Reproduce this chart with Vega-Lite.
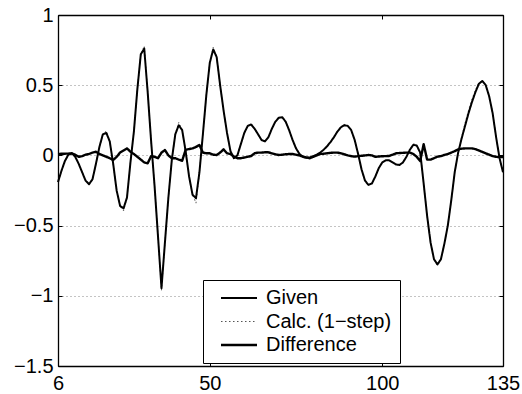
{
  "$schema": "https://vega.github.io/schema/vega-lite/v6.json",
  "width": 445,
  "height": 351,
  "autosize": {"type": "none"},
  "padding": {"left": 58, "top": 15, "right": 19, "bottom": 28},
  "background": "white",
  "config": {
    "font": "Liberation Sans",
    "view": {"stroke": null},
    "axis": {
      "labelFont": "Liberation Sans",
      "labelFontSize": 20,
      "labelColor": "black",
      "domainColor": "black",
      "domainWidth": 1.3,
      "tickColor": "black",
      "tickWidth": 1,
      "tickSize": -4,
      "labelFlush": false,
      "labelOverlap": false,
      "title": null
    },
    "legend": {
      "labelFont": "Liberation Sans",
      "labelFontSize": 20,
      "labelColor": "black"
    }
  },
  "data": {
    "values": [
      {"x": 6, "g": -0.19, "c": -0.19, "d": 0.01},
      {"x": 7, "g": -0.11, "c": -0.11, "d": 0.012},
      {"x": 8, "g": -0.04, "c": -0.04, "d": 0.012},
      {"x": 9, "g": 0.005, "c": 0.005, "d": 0.013},
      {"x": 10, "g": 0.015, "c": 0.015, "d": 0.015},
      {"x": 11, "g": -0.01, "c": -0.01, "d": 0.005},
      {"x": 12, "g": -0.06, "c": -0.06, "d": -0.01},
      {"x": 13, "g": -0.12, "c": -0.12, "d": -0.005},
      {"x": 14, "g": -0.18, "c": -0.18, "d": 0.005},
      {"x": 15, "g": -0.205, "c": -0.205, "d": 0.01},
      {"x": 16, "g": -0.17, "c": -0.17, "d": 0.02},
      {"x": 17, "g": -0.06, "c": -0.06, "d": 0.026},
      {"x": 18, "g": 0.06, "c": 0.06, "d": 0.01},
      {"x": 19, "g": 0.15, "c": 0.15, "d": 0.0},
      {"x": 20, "g": 0.16, "c": 0.175, "d": -0.01},
      {"x": 21, "g": 0.1, "c": 0.1, "d": -0.02},
      {"x": 22, "g": -0.06, "c": -0.06, "d": -0.033},
      {"x": 23, "g": -0.25, "c": -0.25, "d": -0.01},
      {"x": 24, "g": -0.36, "c": -0.36, "d": 0.02},
      {"x": 25, "g": -0.377, "c": -0.395, "d": 0.035},
      {"x": 26, "g": -0.3, "c": -0.3, "d": 0.05},
      {"x": 27, "g": -0.05, "c": -0.05, "d": 0.026},
      {"x": 28, "g": 0.17, "c": 0.17, "d": 0.01},
      {"x": 29, "g": 0.47, "c": 0.47, "d": -0.01},
      {"x": 30, "g": 0.72, "c": 0.72, "d": -0.03},
      {"x": 31, "g": 0.76, "c": 0.78, "d": -0.05},
      {"x": 32, "g": 0.45, "c": 0.45, "d": -0.056},
      {"x": 33, "g": 0.1, "c": 0.1, "d": -0.005},
      {"x": 34, "g": -0.22, "c": -0.22, "d": -0.01},
      {"x": 35, "g": -0.58, "c": -0.58, "d": -0.02},
      {"x": 36, "g": -0.945, "c": -0.96, "d": 0.02},
      {"x": 37, "g": -0.62, "c": -0.62, "d": 0.038},
      {"x": 38, "g": -0.3, "c": -0.3, "d": 0.0},
      {"x": 39, "g": -0.03, "c": -0.03, "d": -0.02},
      {"x": 40, "g": 0.15, "c": 0.15, "d": -0.02},
      {"x": 41, "g": 0.215, "c": 0.235, "d": -0.03},
      {"x": 42, "g": 0.18, "c": 0.18, "d": -0.038},
      {"x": 43, "g": 0.03, "c": 0.03, "d": 0.04},
      {"x": 44, "g": -0.15, "c": -0.15, "d": 0.045},
      {"x": 45, "g": -0.28, "c": -0.28, "d": 0.05},
      {"x": 46, "g": -0.305, "c": -0.34, "d": 0.06},
      {"x": 47, "g": -0.12, "c": -0.12, "d": 0.074},
      {"x": 48, "g": 0.15, "c": 0.15, "d": 0.02},
      {"x": 49, "g": 0.43, "c": 0.43, "d": 0.015},
      {"x": 50, "g": 0.66, "c": 0.66, "d": 0.015},
      {"x": 51, "g": 0.755, "c": 0.77, "d": 0.005},
      {"x": 52, "g": 0.7, "c": 0.7, "d": 0.003},
      {"x": 53, "g": 0.5, "c": 0.5, "d": 0.02},
      {"x": 54, "g": 0.32, "c": 0.32, "d": 0.043},
      {"x": 55, "g": 0.16, "c": 0.16, "d": 0.015},
      {"x": 56, "g": 0.03, "c": 0.03, "d": 0.01},
      {"x": 57, "g": -0.02, "c": -0.02, "d": -0.009},
      {"x": 58, "g": 0.0, "c": 0.0, "d": -0.02},
      {"x": 59, "g": 0.08, "c": 0.08, "d": -0.02},
      {"x": 60, "g": 0.16, "c": 0.16, "d": -0.015},
      {"x": 61, "g": 0.21, "c": 0.21, "d": -0.01},
      {"x": 62, "g": 0.22, "c": 0.22, "d": -0.004},
      {"x": 63, "g": 0.19, "c": 0.19, "d": 0.015},
      {"x": 64, "g": 0.15, "c": 0.15, "d": 0.02},
      {"x": 65, "g": 0.11, "c": 0.11, "d": 0.02},
      {"x": 66, "g": 0.1, "c": 0.1, "d": 0.022},
      {"x": 67, "g": 0.13, "c": 0.13, "d": 0.022},
      {"x": 68, "g": 0.19, "c": 0.19, "d": 0.015},
      {"x": 69, "g": 0.24, "c": 0.24, "d": 0.008},
      {"x": 70, "g": 0.268, "c": 0.268, "d": 0.003},
      {"x": 71, "g": 0.272, "c": 0.272, "d": 0.005},
      {"x": 72, "g": 0.24, "c": 0.24, "d": 0.008},
      {"x": 73, "g": 0.18, "c": 0.18, "d": 0.01},
      {"x": 74, "g": 0.11, "c": 0.11, "d": 0.01},
      {"x": 75, "g": 0.05, "c": 0.05, "d": 0.005},
      {"x": 76, "g": 0.01, "c": 0.01, "d": 0.0},
      {"x": 77, "g": -0.01, "c": -0.01, "d": -0.009},
      {"x": 78, "g": -0.016, "c": -0.016, "d": -0.015},
      {"x": 79, "g": -0.015, "c": -0.015, "d": -0.02},
      {"x": 80, "g": -0.005, "c": -0.005, "d": -0.01},
      {"x": 81, "g": 0.005, "c": 0.005, "d": 0.0},
      {"x": 82, "g": 0.02, "c": 0.02, "d": 0.01},
      {"x": 83, "g": 0.04, "c": 0.04, "d": 0.012},
      {"x": 84, "g": 0.065, "c": 0.065, "d": 0.015},
      {"x": 85, "g": 0.095, "c": 0.095, "d": 0.018},
      {"x": 86, "g": 0.13, "c": 0.13, "d": 0.02},
      {"x": 87, "g": 0.17, "c": 0.17, "d": 0.02},
      {"x": 88, "g": 0.2, "c": 0.2, "d": 0.015},
      {"x": 89, "g": 0.215, "c": 0.22, "d": 0.008},
      {"x": 90, "g": 0.21, "c": 0.21, "d": 0.0},
      {"x": 91, "g": 0.18, "c": 0.18, "d": -0.005},
      {"x": 92, "g": 0.11, "c": 0.11, "d": -0.009},
      {"x": 93, "g": 0.01, "c": 0.01, "d": -0.005},
      {"x": 94, "g": -0.1, "c": -0.1, "d": -0.003},
      {"x": 95, "g": -0.18, "c": -0.18, "d": 0.0},
      {"x": 96, "g": -0.21, "c": -0.21, "d": 0.003},
      {"x": 97, "g": -0.2, "c": -0.2, "d": 0.0},
      {"x": 98, "g": -0.15, "c": -0.15, "d": -0.01},
      {"x": 99, "g": -0.09, "c": -0.09, "d": -0.008},
      {"x": 100, "g": -0.05, "c": -0.05, "d": -0.006},
      {"x": 101, "g": -0.035, "c": -0.035, "d": -0.005},
      {"x": 102, "g": -0.035, "c": -0.035, "d": -0.004},
      {"x": 103, "g": -0.05, "c": -0.05, "d": 0.005},
      {"x": 104, "g": -0.065, "c": -0.065, "d": 0.015},
      {"x": 105, "g": -0.068, "c": -0.068, "d": 0.017},
      {"x": 106, "g": -0.05, "c": -0.05, "d": 0.018},
      {"x": 107, "g": -0.01, "c": -0.01, "d": 0.02},
      {"x": 108, "g": 0.04, "c": 0.04, "d": 0.02},
      {"x": 109, "g": 0.075, "c": 0.085, "d": 0.01},
      {"x": 110, "g": 0.07, "c": 0.07, "d": -0.01},
      {"x": 111, "g": 0.02, "c": 0.02, "d": -0.04},
      {"x": 112, "g": -0.2, "c": -0.2, "d": 0.08},
      {"x": 113, "g": -0.43, "c": -0.43, "d": -0.03},
      {"x": 114, "g": -0.62, "c": -0.62, "d": -0.03},
      {"x": 115, "g": -0.74, "c": -0.74, "d": -0.02},
      {"x": 116, "g": -0.776, "c": -0.785, "d": -0.009},
      {"x": 117, "g": -0.74, "c": -0.74, "d": -0.005},
      {"x": 118, "g": -0.63, "c": -0.63, "d": 0.003},
      {"x": 119, "g": -0.5, "c": -0.5, "d": 0.01},
      {"x": 120, "g": -0.32, "c": -0.32, "d": 0.02},
      {"x": 121, "g": -0.12, "c": -0.12, "d": 0.03},
      {"x": 122, "g": 0.02, "c": 0.02, "d": 0.043},
      {"x": 123, "g": 0.12, "c": 0.13, "d": 0.048},
      {"x": 124, "g": 0.21, "c": 0.23, "d": 0.05},
      {"x": 125, "g": 0.3, "c": 0.32, "d": 0.05},
      {"x": 126, "g": 0.38, "c": 0.4, "d": 0.05},
      {"x": 127, "g": 0.45, "c": 0.465, "d": 0.045},
      {"x": 128, "g": 0.51, "c": 0.515, "d": 0.035},
      {"x": 129, "g": 0.53, "c": 0.535, "d": 0.025},
      {"x": 130, "g": 0.5, "c": 0.5, "d": 0.015},
      {"x": 131, "g": 0.42, "c": 0.42, "d": 0.005},
      {"x": 132, "g": 0.3, "c": 0.3, "d": -0.005},
      {"x": 133, "g": 0.13, "c": 0.13, "d": -0.01},
      {"x": 134, "g": -0.02, "c": -0.02, "d": -0.012},
      {"x": 135, "g": -0.12, "c": -0.12, "d": -0.012}
    ]
  },
  "transform": [{"fold": ["g", "c", "d"], "as": ["k", "y"]}],
  "layer": [
    {
      "transform": [{"filter": "datum.k == 'c'"}],
      "mark": {"type": "line", "strokeCap": "butt"},
      "encoding": {
        "x": {
          "field": "x", "type": "quantitative",
          "scale": {"domain": [6, 135], "nice": false, "zero": false},
          "axis": {"orient": "bottom", "values": [6, 50, 100, 135], "format": "d", "grid": false, "labelPadding": 11.5}
        },
        "y": {
          "field": "y", "type": "quantitative",
          "scale": {"domain": [-1.5, 1], "nice": false, "zero": false},
          "axis": {"orient": "left", "values": [-1.5, -1, -0.5, 0, 0.5, 1], "format": "~g", "grid": true, "gridColor": "#888888", "gridDash": [1, 3], "gridWidth": 1, "labelPadding": 9}
        },
        "color": {
          "field": "k", "type": "nominal",
          "scale": {"domain": ["g", "c", "d"], "range": ["black", "#555555", "black"]},
          "legend": {
            "orient": "none", "legendX": 145, "legendY": 265, "title": null,
            "padding": 8, "strokeColor": "black", "fillColor": "white", "cornerRadius": 0,
            "symbolType": "M-5,0H5", "symbolSize": 51.84, "symbolOffset": 18, "labelOffset": 17,
            "rowPadding": 3.5,
            "labelExpr": "datum.label == 'g' ? 'Given' : datum.label == 'c' ? 'Calc. (1−step)' : 'Difference'"
          }
        },
        "strokeDash": {
          "field": "k", "type": "nominal",
          "scale": {"domain": ["g", "c", "d"], "range": [[1, 0], [1.5, 2.5], [1, 0]]}
        },
        "strokeWidth": {
          "field": "k", "type": "ordinal",
          "scale": {"type": "ordinal", "domain": ["g", "c", "d"], "range": [2, 1, 2.4]}
        }
      }
    },
    {
      "transform": [{"filter": "datum.k == 'g'"}],
      "mark": {"type": "line", "strokeJoin": "round"},
      "encoding": {
        "x": {
          "field": "x", "type": "quantitative",
          "scale": {"domain": [6, 135], "nice": false, "zero": false},
          "axis": {"orient": "top", "values": [6, 50, 100, 135], "labels": false, "grid": false}
        },
        "y": {
          "field": "y", "type": "quantitative",
          "scale": {"domain": [-1.5, 1], "nice": false, "zero": false},
          "axis": {"orient": "right", "values": [-1.5, -1, -0.5, 0, 0.5, 1], "labels": false, "grid": false}
        },
        "color": {"field": "k", "type": "nominal", "scale": {"domain": ["g", "c", "d"], "range": ["black", "#555555", "black"]}},
        "strokeDash": {"field": "k", "type": "nominal", "scale": {"domain": ["g", "c", "d"], "range": [[1, 0], [1.5, 2.5], [1, 0]]}},
        "strokeWidth": {"field": "k", "type": "ordinal", "scale": {"type": "ordinal", "domain": ["g", "c", "d"], "range": [2, 1, 2.4]}}
      }
    },
    {
      "transform": [{"filter": "datum.k == 'd'"}],
      "mark": {"type": "line", "strokeJoin": "round"},
      "encoding": {
        "x": {"field": "x", "type": "quantitative", "scale": {"domain": [6, 135], "nice": false, "zero": false}, "axis": null},
        "y": {"field": "y", "type": "quantitative", "scale": {"domain": [-1.5, 1], "nice": false, "zero": false}, "axis": null},
        "color": {"field": "k", "type": "nominal", "scale": {"domain": ["g", "c", "d"], "range": ["black", "#555555", "black"]}},
        "strokeDash": {"field": "k", "type": "nominal", "scale": {"domain": ["g", "c", "d"], "range": [[1, 0], [1.5, 2.5], [1, 0]]}},
        "strokeWidth": {"field": "k", "type": "ordinal", "scale": {"type": "ordinal", "domain": ["g", "c", "d"], "range": [2, 1, 2.4]}}
      }
    }
  ],
  "resolve": {"axis": {"x": "independent", "y": "independent"}}
}
